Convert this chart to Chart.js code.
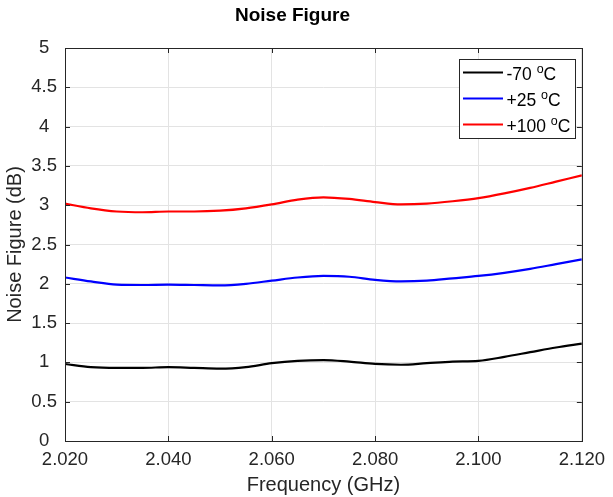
<!DOCTYPE html>
<html><head><meta charset="utf-8">
<script src="https://cdn.jsdelivr.net/npm/chart.js@4"></script>
<style>html,body{margin:0;padding:0;background:#fff}#wrap{width:613px;height:497px}</style>
</head><body><div id="wrap"><canvas id="c" width="613" height="497"></canvas></div>
<script>
const freqGHz = [2.020,2.025,2.030,2.035,2.040,2.045,2.050,2.055,2.060,2.065,2.070,2.075,2.080,2.085,2.090,2.095,2.100,2.105,2.110,2.115,2.120];
const nfMinus70 = [0.98,0.94,0.93,0.93,0.94,0.93,0.92,0.94,0.99,1.02,1.03,1.01,0.98,0.97,0.99,1.01,1.02,1.07,1.13,1.19,1.24];
const nfPlus25 = [2.08,2.03,1.99,1.985,1.99,1.985,1.98,2.00,2.04,2.08,2.10,2.09,2.05,2.03,2.04,2.07,2.10,2.14,2.19,2.25,2.31];
const nfPlus100 = [3.02,2.96,2.92,2.91,2.92,2.92,2.93,2.96,3.01,3.07,3.10,3.08,3.04,3.01,3.02,3.05,3.09,3.15,3.22,3.30,3.38];
const seriesLabels = ['-70 °C','+25 °C','+100 °C'];
const seriesColors = ['#000000','#0000ff','#ff0000'];
const xTicks = [2.02,2.04,2.06,2.08,2.10,2.12];
const yTicks = [0,0.5,1,1.5,2,2.5,3,3.5,4,4.5,5];

const FONT = '"Liberation Sans", Arial, Helvetica, sans-serif';
const AX = '#262626';
const mk = (arr) => freqGHz.map((f,i)=>({x:f,y:arr[i]}));
const seriesData = [nfMinus70, nfPlus25, nfPlus100];

const boxPlugin = {
  id:'box',
  afterDraw(chart){
    const ctx = chart.ctx, a = chart.chartArea, xs = chart.scales.x, ys = chart.scales.y;
    ctx.save();
    ctx.strokeStyle = AX; ctx.lineWidth = 1;
    ctx.strokeRect(Math.round(a.left)+0.5, Math.round(a.top)+0.5, Math.round(a.right-a.left), Math.round(a.bottom-a.top));
    const tl = 5;
    ctx.beginPath();
    xTicks.forEach(v=>{ const px = Math.round(xs.getPixelForValue(v))+0.5;
      ctx.moveTo(px,a.bottom); ctx.lineTo(px,a.bottom-tl);
      ctx.moveTo(px,a.top); ctx.lineTo(px,a.top+tl); });
    yTicks.forEach(v=>{ const py = Math.round(ys.getPixelForValue(v))+0.5;
      ctx.moveTo(a.left,py); ctx.lineTo(a.left+tl,py);
      ctx.moveTo(a.right,py); ctx.lineTo(a.right-tl,py); });
    ctx.stroke();
    // legend
    const bx = 459.5, by = 59.5, bw = 116, bh = 79;
    ctx.fillStyle = '#fff'; ctx.fillRect(bx,by,bw,bh);
    ctx.strokeStyle = AX; ctx.strokeRect(bx,by,bw,bh);
    chart.data.datasets.forEach((ds,i)=>{
      const ly = 72.5 + i*26;
      ctx.strokeStyle = ds.borderColor; ctx.lineWidth = 2;
      ctx.beginPath(); ctx.moveTo(463,ly); ctx.lineTo(503,ly); ctx.stroke();
      ctx.fillStyle = '#000'; ctx.textBaseline = 'middle'; ctx.textAlign='left';
      const parts = ds.label.split('°');
      let x = 506.5;
      ctx.font = '17.5px ' + FONT;
      ctx.fillText(parts[0], x, ly+3); x += ctx.measureText(parts[0]).width;
      if (parts.length > 1){
        ctx.font = '12.5px ' + FONT;
        ctx.fillText('o', x, ly-3); x += ctx.measureText('o').width;
        ctx.font = '17.5px ' + FONT;
        ctx.fillText(parts[1], x, ly+3);
      }
    });
    ctx.restore();
  }
};

new Chart(document.getElementById('c'), {
  type:'line',
  data:{ datasets: seriesData.map((arr,i)=>({
    label: seriesLabels[i], data: mk(arr), borderColor: seriesColors[i], backgroundColor: seriesColors[i],
    borderWidth: 2.2, pointRadius: 0, cubicInterpolationMode:'monotone', fill:false })) },
  options:{
    responsive:false, animation:false, devicePixelRatio:1,
    layout:{ padding:{ left:0, right:28, top:0, bottom:0 } },
    plugins:{
      legend:{ display:false }, tooltip:{ enabled:false },
      title:{ display:true, text:'Noise Figure', color:'#000', font:{ family:FONT, size:19, weight:'bold', lineHeight:1.2 }, padding:{ top:4, bottom:21.2 } }
    },
    scales:{
      x:{ type:'linear', min:2.02, max:2.12,
        afterBuildTicks: s => { s.ticks = xTicks.map(v=>({value:v})); },
        afterFit: s => { s.height = 56; },
        ticks:{ color:AX, padding:8, maxRotation:0, autoSkip:false, font:{ family:FONT, size:18.5 }, callback: v => Number(v).toFixed(3) },
        grid:{ color:'#e3e3e3', drawTicks:false, lineWidth:1 },
        border:{ display:false },
        title:{ display:true, text:'Frequency (GHz)', color:AX, font:{ family:FONT, size:20 }, padding:{ top:0, bottom:0 } }
      },
      y:{ min:0, max:5,
        afterBuildTicks: s => { s.ticks = yTicks.map(v=>({value:v})); },
        afterFit: s => { s.width = 65; },
        ticks:{ color:AX, padding:8, crossAlign:'center', autoSkip:false, font:{ family:FONT, size:18.5 }, callback: v => String(v) },
        grid:{ color:'#e3e3e3', drawTicks:false, lineWidth:1 },
        border:{ display:false },
        title:{ display:true, text:'Noise Figure (dB)', color:AX, font:{ family:FONT, size:20 }, padding:{ top:3, bottom:0 } }
      }
    }
  },
  plugins:[boxPlugin]
});
</script></body></html>
